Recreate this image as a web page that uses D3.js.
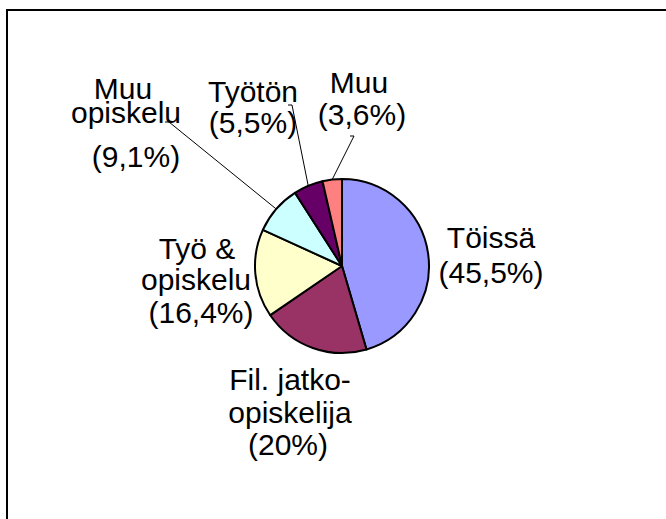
<!DOCTYPE html>
<html>
<head>
<meta charset="utf-8">
<script src="https://cdn.jsdelivr.net/npm/d3@7"></script>
<style>
  body { margin: 0; background: #fff; }
  svg { display: block; }
  .label { font-family: "Liberation Sans", Arial, sans-serif; font-size: 30px; fill: #000; }
</style>
</head>
<body>
<svg id="chart" width="666" height="519"></svg>
<script>
// categories, clockwise from 12 o'clock
const categories = ["Töissä", "Fil. jatko-opiskelija", "Työ & opiskelu", "Muu opiskelu", "Työtön", "Muu"];
const shares = [45.5, 20, 16.4, 9.1, 5.5, 3.6];
const shareLabels = ["45,5%", "20%", "16,4%", "9,1%", "5,5%", "3,6%"];
const labelLines = [["Töissä"], ["Fil. jatko-", "opiskelija"], ["Työ &", "opiskelu"], ["Muu", "opiskelu"], ["Työtön"], ["Muu"]];
const colors = ["#9999ff", "#993366", "#ffffcc", "#ccffff", "#660066", "#ff8080"];

// label placement: [centre x, baseline y] per text line
const labelLayout = [
  [[491, 248], [491, 283]],
  [[290, 390], [290, 423], [288, 455]],
  [[197, 259], [196, 290], [201, 323]],
  [[123, 99], [126, 123], [136, 167]],
  [[253, 102], [253, 133]],
  [[359, 93], [362, 125]]
];
// where leader lines leave the label (null = no leader)
const leaderStart = [null, null, null, [165, 122], [288, 105], [350, 136]];

const svg = d3.select("#chart");
const cx = 342, cy = 266, radius = 87;

svg.append("rect")
  .attr("x", 7)
  .attr("y", 10)
  .attr("width", 700)
  .attr("height", 560)
  .attr("fill", "none")
  .attr("stroke", "#000")
  .attr("stroke-width", 2);

const pie = d3.pie().sort(null).value(d => d)(shares);
const arc = d3.arc().innerRadius(0).outerRadius(radius);
const outer = d3.arc().innerRadius(radius).outerRadius(radius);

const g = svg.append("g").attr("transform", `translate(${cx},${cy})`);

g.selectAll("path")
  .data(pie)
  .enter()
  .append("path")
  .attr("d", arc)
  .attr("fill", (d, i) => colors[i])
  .attr("stroke", "#000")
  .attr("stroke-width", 2)
  .attr("stroke-linejoin", "round");

// leader lines
pie.forEach((d, i) => {
  const s = leaderStart[i];
  if (!s) return;
  const e = outer.centroid(d);
  svg.append("polyline")
    .attr("points", [[s[0], s[1]], [s[0] + 4, s[1]], [cx + e[0], cy + e[1]]].map(p => p.join(",")).join(" "))
    .attr("fill", "none")
    .attr("stroke", "#000")
    .attr("stroke-width", 1);
});

// labels
categories.forEach((c, i) => {
  const lines = labelLines[i].concat([`(${shareLabels[i]})`]);
  lines.forEach((t, j) => {
    const p = labelLayout[i][j];
    svg.append("text")
      .attr("class", "label")
      .attr("x", p[0])
      .attr("y", p[1])
      .attr("text-anchor", "middle")
      .text(t);
  });
});
</script>
</body>
</html>
